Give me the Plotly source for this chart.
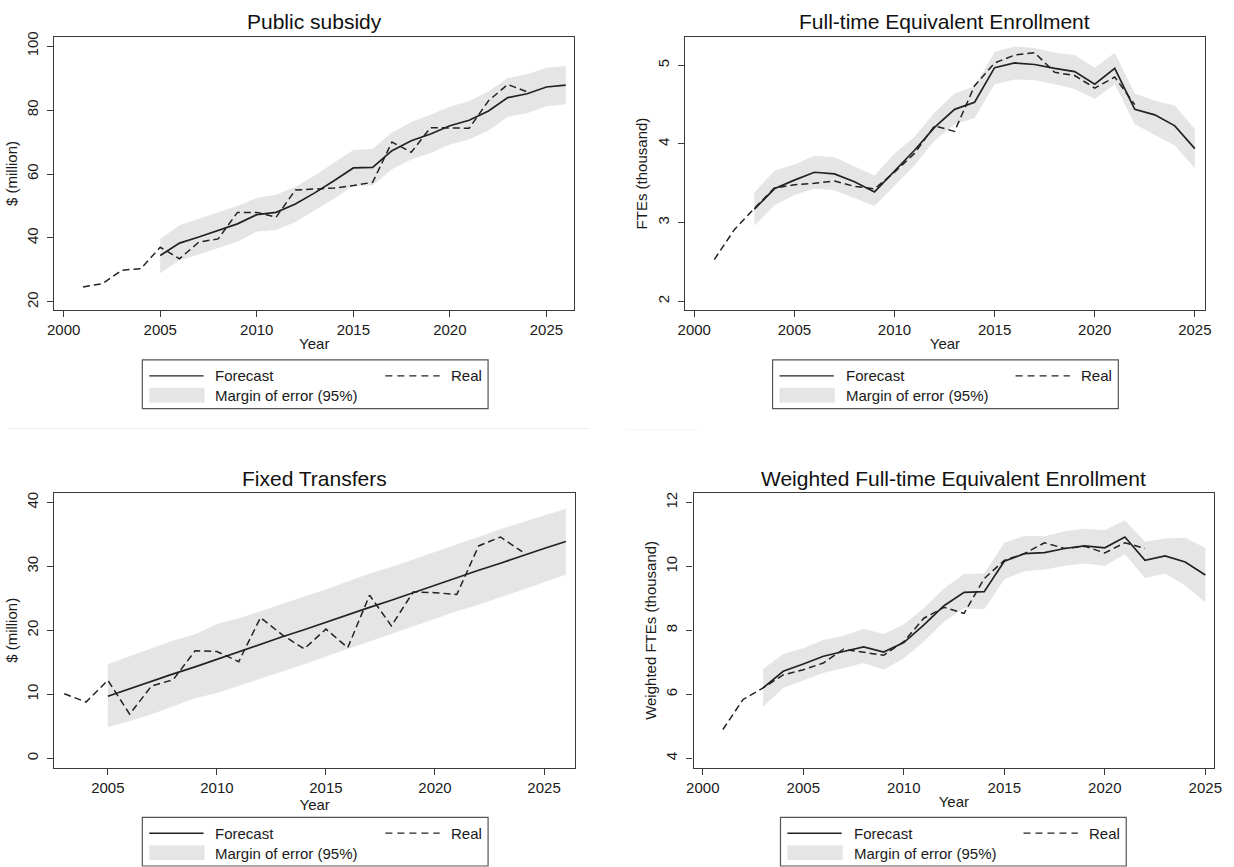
import plotly.graph_objects as go

W, H = 1234, 867

# ---------------- data ----------------
# Public subsidy ($ million)
ps_real_years = list(range(2001, 2025))
ps_real = [24.7, 25.7, 29.9, 30.4, 37.1, 33.5, 38.7, 39.7, 48.0, 48.0, 46.5, 55.0,
           55.3, 55.6, 56.4, 57.4, 70.0, 66.8, 74.5, 74.3, 74.3, 82.9, 88.0, 85.7]
ps_fc_years = list(range(2005, 2027))
ps_fc = [34.5, 38.4, 40.3, 42.3, 44.4, 47.3, 48.0, 50.6, 54.1, 57.9, 61.9, 62.1,
         67.3, 70.4, 72.5, 75.1, 76.8, 79.7, 83.9, 85.1, 87.2, 87.8]
ps_up = [39.7, 44.0, 46.0, 48.0, 50.0, 52.5, 53.5, 56.0, 59.5, 63.5, 67.5, 67.8,
         73.0, 76.3, 78.5, 81.0, 82.8, 85.8, 90.0, 91.2, 93.2, 93.8]
ps_lo = [29.0, 33.0, 34.8, 36.7, 38.8, 42.0, 42.5, 45.0, 48.6, 52.3, 56.3, 56.4,
         61.5, 64.5, 66.6, 69.2, 70.8, 73.6, 77.9, 79.0, 81.2, 81.8]

# Full-time Equivalent Enrollment (thousand)
fte_real_years = list(range(2001, 2023))
fte_real = [2.53, 2.91, 3.18, 3.44, 3.48, 3.50, 3.53, 3.46, 3.43, 3.64, 3.88,
            4.23, 4.16, 4.74, 5.03, 5.13, 5.16, 4.91, 4.87, 4.71, 4.85, 4.50]
fte_fc_years = list(range(2003, 2026))
fte_fc = [3.17, 3.43, 3.54, 3.64, 3.62, 3.52, 3.39, 3.66, 3.92, 4.21, 4.44, 4.53,
          4.97, 5.03, 5.01, 4.96, 4.92, 4.76, 4.96, 4.44, 4.37, 4.23, 3.94]
fte_up = [3.38, 3.66, 3.74, 3.85, 3.83, 3.71, 3.60, 3.88, 4.09, 4.40, 4.64, 4.73,
          5.17, 5.24, 5.22, 5.16, 5.13, 4.97, 5.16, 4.64, 4.55, 4.49, 4.19]
fte_lo = [2.96, 3.22, 3.35, 3.43, 3.41, 3.31, 3.21, 3.47, 3.73, 4.04, 4.25, 4.33,
          4.76, 4.82, 4.81, 4.76, 4.70, 4.57, 4.76, 4.25, 4.11, 3.98, 3.69]

# Fixed Transfers ($ million)
ft_real_years = list(range(2003, 2025))
ft_real = [10.1, 8.8, 12.2, 6.9, 11.3, 12.3, 16.8, 16.7, 15.1, 22.0, 19.3, 17.1,
           20.2, 17.3, 25.5, 20.7, 26.0, 25.9, 25.6, 33.2, 34.6, 32.3]
ft_fc_years = list(range(2005, 2027))
ft_fc = [9.7, 10.9, 12.0, 13.2, 14.3, 15.5, 16.6, 17.8, 19.0, 20.1, 21.3, 22.4,
         23.6, 24.7, 25.9, 27.0, 28.2, 29.4, 30.5, 31.7, 32.8, 33.9]
ft_up = [14.7, 16.0, 17.2, 18.4, 19.4, 21.0, 21.9, 23.0, 24.2, 25.3, 26.4, 27.6,
         28.9, 29.9, 31.1, 32.3, 33.4, 34.6, 35.8, 36.9, 38.0, 39.0]
ft_lo = [4.9, 5.8, 6.9, 8.2, 9.4, 10.2, 11.3, 12.4, 13.6, 14.7, 15.9, 17.1,
         18.3, 19.5, 20.6, 21.8, 23.0, 24.0, 25.2, 26.4, 27.6, 28.7]

# Weighted Full-time Equivalent Enrollment (thousand)
wfte_real_years = list(range(2001, 2023))
wfte_real = [4.90, 5.84, 6.20, 6.61, 6.77, 6.98, 7.41, 7.32, 7.22, 7.65, 8.38,
             8.72, 8.53, 9.62, 10.19, 10.40, 10.74, 10.56, 10.63, 10.42, 10.74, 10.56]
wfte_fc_years = list(range(2003, 2026))
wfte_fc = [6.20, 6.72, 6.95, 7.19, 7.34, 7.48, 7.32, 7.62, 8.17, 8.77, 9.19, 9.21,
           10.16, 10.40, 10.43, 10.56, 10.64, 10.58, 10.92, 10.19, 10.33, 10.14, 9.73]
wfte_up = [6.79, 7.26, 7.44, 7.70, 7.83, 8.04, 7.89, 8.19, 8.69, 9.31, 9.76, 9.78,
           10.74, 10.95, 10.94, 11.10, 11.18, 11.13, 11.44, 10.77, 10.87, 10.90, 10.58]
wfte_lo = [5.61, 6.20, 6.43, 6.67, 6.82, 6.98, 6.77, 7.13, 7.65, 8.27, 8.69, 8.66,
           9.60, 9.85, 9.90, 10.02, 10.09, 10.02, 10.38, 9.64, 9.78, 9.40, 8.87]

titles = ["Public subsidy", "Full-time Equivalent Enrollment",
          "Fixed Transfers", "Weighted Full-time Equivalent Enrollment"]
ytitles = ["$ (million)", "FTEs (thousand)", "$ (million)", "Weighted FTEs (thousand)"]
x_ticks = [[2000, 2005, 2010, 2015, 2020, 2025],
           [2000, 2005, 2010, 2015, 2020, 2025],
           [2005, 2010, 2015, 2020, 2025],
           [2000, 2005, 2010, 2015, 2020, 2025]]
y_ticks = [[20, 40, 60, 80, 100], [2, 3, 4, 5], [0, 10, 20, 30, 40], [4, 6, 8, 10, 12]]
x_ranges = [[1999.52, 2026.43], [1999.52, 2025.52], [2002.55, 2026.42], [1999.54, 2025.44]]
y_ranges = [[17.4, 102.9], [1.886, 5.362], [-1.45, 41.45], [3.71, 12.29]]

# ---------------- layout geometry (pixels) ----------------
boxes = [  # x0, x1, y0, y1 (top-down pixels)
    (48, 574, 32, 307),
    (686, 1213, 32, 307),
    (48, 575, 491, 767),
    (695, 1222, 491, 767),
]
legends = [  # x0, x1, y0, y1
    (137, 487, 357, 406),
    (775, 1125, 357, 406),
    (137, 487, 817, 866),
    (783, 1133, 817, 866),
]

FONT = "Liberation Sans, Arial, Helvetica, sans-serif"
LINE = "#222222"
AX = "#3a3a3a"
BAND = "#e5e5e5"
FS = 15

panels = [
    (ps_real_years, ps_real, ps_fc_years, ps_fc, ps_up, ps_lo),
    (fte_real_years, fte_real, fte_fc_years, fte_fc, fte_up, fte_lo),
    (ft_real_years, ft_real, ft_fc_years, ft_fc, ft_up, ft_lo),
    (wfte_real_years, wfte_real, wfte_fc_years, wfte_fc, wfte_up, wfte_lo),
]

fig = go.Figure()
layout = dict(
    width=W, height=H, margin=dict(l=0, r=0, t=0, b=0),
    paper_bgcolor="white", plot_bgcolor="white",
    font=dict(family=FONT, color="#1a1a1a", size=FS),
    showlegend=False,
)
annotations = []
shapes = []

def px_x(x):
    return x / W

def px_y(y):
    return 1 - y / H

for i, (ry, rv, fy, fv, up, lo) in enumerate(panels):
    n = i + 1
    xa = "x" if n == 1 else f"x{n}"
    ya = "y" if n == 1 else f"y{n}"
    # band
    fig.add_trace(go.Scatter(x=fy, y=lo, mode="lines", line=dict(width=0, color=BAND),
                             hoverinfo="skip", xaxis=xa, yaxis=ya))
    fig.add_trace(go.Scatter(x=fy, y=up, mode="lines", line=dict(width=0, color=BAND),
                             fill="tonexty", fillcolor=BAND, hoverinfo="skip",
                             xaxis=xa, yaxis=ya))
    # forecast
    fig.add_trace(go.Scatter(x=fy, y=fv, mode="lines", name="Forecast",
                             line=dict(color=LINE, width=1.7), xaxis=xa, yaxis=ya))
    # real
    fig.add_trace(go.Scatter(x=ry, y=rv, mode="lines", name="Real",
                             line=dict(color=LINE, width=1.5, dash="7px,4px"),
                             xaxis=xa, yaxis=ya))

    x0, x1, y0, y1 = boxes[i]
    xkey = "xaxis" if n == 1 else f"xaxis{n}"
    ykey = "yaxis" if n == 1 else f"yaxis{n}"
    layout[xkey] = dict(
        domain=[px_x(x0), px_x(x1)], anchor=ya, range=x_ranges[i],
        tickvals=x_ticks[i], ticks="outside", ticklen=6, tickwidth=1, tickcolor=AX,
        showline=True, mirror=True, linecolor=AX, linewidth=1.3,
        showgrid=False, zeroline=False, tickfont=dict(size=FS),
        title=dict(text="Year", font=dict(size=FS), standoff=1),
    )
    layout[ykey] = dict(
        domain=[px_y(y1), px_y(y0)], anchor=xa, range=y_ranges[i],
        tickvals=y_ticks[i], ticks="outside", ticklen=6, tickwidth=1, tickcolor=AX,
        ticklabelstandoff=3,
        showline=True, mirror=True, linecolor=AX, linewidth=1.3,
        showgrid=False, zeroline=False, tickangle=-90, tickfont=dict(size=FS),
        title=dict(text=ytitles[i], font=dict(size=FS), standoff=3),
    )
    # title
    annotations.append(dict(text=titles[i], x=px_x((x0 + x1) / 2), y=px_y(y0 - 15),
                            xref="paper", yref="paper", xanchor="center", yanchor="middle",
                            showarrow=False, font=dict(size=21, color="#111")))
    # legend box
    lx0, lx1, ly0, ly1 = legends[i]
    shapes.append(dict(type="rect", xref="paper", yref="paper",
                       x0=px_x(lx0), x1=px_x(lx1), y0=px_y(ly1), y1=px_y(ly0),
                       line=dict(color="#555", width=1.2), fillcolor="white"))
    r1 = ly0 + 16
    r2 = ly0 + 36
    # forecast sample
    shapes.append(dict(type="line", xref="paper", yref="paper",
                       x0=px_x(lx0 + 7), x1=px_x(lx0 + 62), y0=px_y(r1), y1=px_y(r1),
                       line=dict(color=LINE, width=1.4)))
    annotations.append(dict(text="Forecast", x=px_x(lx0 + 72), y=px_y(r1), xref="paper",
                            yref="paper", xanchor="left", yanchor="middle", showarrow=False,
                            font=dict(size=FS)))
    # real sample
    shapes.append(dict(type="line", xref="paper", yref="paper",
                       x0=px_x(lx0 + 246), x1=px_x(lx0 + 301), y0=px_y(r1), y1=px_y(r1),
                       line=dict(color=LINE, width=1.3, dash="7px,5px")))
    annotations.append(dict(text="Real", x=px_x(lx0 + 310), y=px_y(r1), xref="paper",
                            yref="paper", xanchor="left", yanchor="middle", showarrow=False,
                            font=dict(size=FS)))
    # band sample
    shapes.append(dict(type="rect", xref="paper", yref="paper",
                       x0=px_x(lx0 + 7), x1=px_x(lx0 + 63), y0=px_y(ly0 + 43), y1=px_y(ly0 + 28),
                       line=dict(width=0), fillcolor=BAND))
    annotations.append(dict(text="Margin of error (95%)", x=px_x(lx0 + 72), y=px_y(r2),
                            xref="paper", yref="paper", xanchor="left", yanchor="middle",
                            showarrow=False, font=dict(size=FS)))

# faint separators between the rows
shapes.append(dict(type="line", xref="paper", yref="paper", x0=0, x1=px_x(590),
                   y0=px_y(426), y1=px_y(426), line=dict(color="#f0f0f0", width=1)))
shapes.append(dict(type="line", xref="paper", yref="paper", x0=px_x(627), x1=px_x(700),
                   y0=px_y(427), y1=px_y(427), line=dict(color="#f4f4f4", width=1)))

layout["annotations"] = annotations
layout["shapes"] = shapes
fig.update_layout(**layout)
fig.write_html("out.html")
